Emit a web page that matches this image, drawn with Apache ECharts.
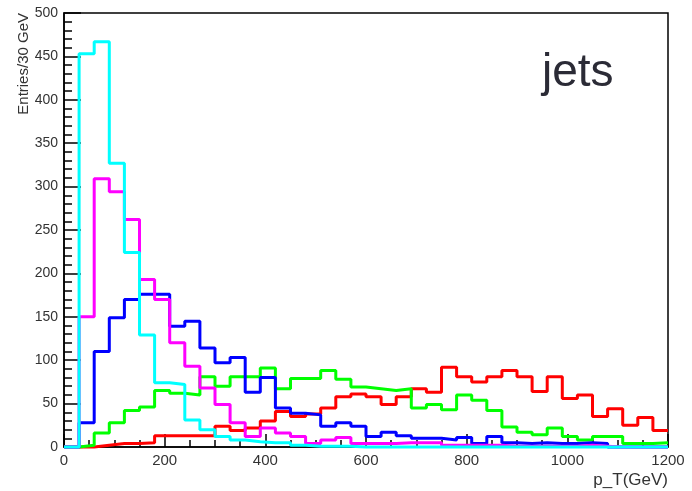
<!DOCTYPE html>
<html>
<head>
<meta charset="utf-8">
<script src="https://cdn.jsdelivr.net/npm/echarts@6/dist/echarts.min.js"></script>
<style>
html,body{margin:0;padding:0;background:#fff;}
#chart{width:692px;height:491px;}
</style>
</head>
<body>
<div id="chart"></div>
<script>
// Histogram binning (30 GeV bins from 0 to 1200)
const binWidth = 30;
const xMin = 0;
const xMax = 1200;
const yMin = 0;
const yMax = 500;
const xTickStep = 200;
const yTickStep = 50;

// Bin contents, one value per 30 GeV bin (40 bins)
const cyanValues = [0, 453, 467, 327, 224, 129, 74, 72, 31, 20, 12, 8, 6, 5, 5, 2, 1, 1, 1, 0,
                    0, 0, 0, 0, 0, 0, 0, 0, 0, 0, 0, 0, 0, 0, 0, 0, 0, 0, 0, 0];
const magentaValues = [0, 150, 309, 294, 262, 193, 170, 120, 93, 68, 49, 28, 12, 22, 16, 12, 4, 8, 11, 4,
                       4, 4, 5, 5, 5, 2, 2, 2, 2, 1, 1, 1, 1, 1, 2, 1, 0, 0, 0, 0];
const blueValues = [0, 28, 110, 149, 170, 176, 176, 139, 145, 114, 97, 103, 63, 80, 45, 39, 37, 24, 28, 24,
                    12, 17, 13, 10, 10, 8, 11, 4, 12, 5, 4, 5, 4, 4, 5, 4, 0, 0, 0, 0];
const greenValues = [0, 2, 16, 28, 42, 46, 65, 62, 60, 81, 70, 81, 81, 91, 67, 79, 79, 88, 78, 69,
                     67, 65, 67, 45, 49, 43, 60, 54, 42, 23, 17, 14, 22, 12, 8, 12, 12, 4, 4, 5];
const redValues = [0, 0, 2, 4, 4, 5, 13, 13, 13, 13, 24, 19, 22, 30, 41, 35, 38, 45, 58, 61,
                   58, 49, 58, 67, 63, 92, 81, 75, 81, 88, 81, 64, 81, 56, 60, 35, 44, 25, 34, 19];

const xAxisTitle = 'p_T(GeV)';
const yAxisTitle = 'Entries/30 GeV';
const annotation = 'jets';

// build step-line points: [bin low edge, value], plus closing point at xMax
function histPoints(values) {
  const pts = values.map((v, i) => [xMin + i * binWidth, v]);
  pts.push([xMin + values.length * binWidth, values[values.length - 1]]);
  return pts;
}

const seriesDefs = [
  {name: 'red', color: '#ff0000', values: redValues},
  {name: 'green', color: '#00ff00', values: greenValues},
  {name: 'blue', color: '#0000ff', values: blueValues},
  {name: 'magenta', color: '#ff00ff', values: magentaValues},
  {name: 'cyan', color: '#00ffff', values: cyanValues}
];

const FONT = 'Liberation Sans, Arial, Helvetica, sans-serif';
const chart = echarts.init(document.getElementById('chart'), null, {renderer: 'canvas'});

const option = {
  animation: false,
  backgroundColor: '#ffffff',
  title: {
    text: annotation,
    left: 542,
    top: 50,
    padding: 0,
    textStyle: {fontSize: 46, fontWeight: 'normal', color: '#2b2b36', fontFamily: FONT}
  },
  grid: {
    left: 64, right: 24, top: 13, bottom: 44,
    show: true, borderColor: '#000', borderWidth: 1.5,
    containLabel: false, outerBoundsMode: 'none'
  },
  xAxis: {
    type: 'value',
    min: xMin, max: xMax, interval: xTickStep,
    axisLine: {show: true, onZero: false, lineStyle: {color: '#000', width: 1.5}},
    axisTick: {show: true, inside: true, length: 13, lineStyle: {color: '#000', width: 1.5}},
    minorTick: {show: true, splitNumber: 4, length: 7, lineStyle: {color: '#000', width: 1.5}},
    splitLine: {show: false},
    axisLabel: {fontSize: 15, color: '#333', margin: 6, fontFamily: FONT, formatter: v => String(v)},
    name: xAxisTitle,
    nameLocation: 'end',
    nameGap: 0,
    nameMoveOverlap: false,
    nameTextStyle: {fontSize: 17, color: '#333', fontFamily: FONT, align: 'right', verticalAlign: 'top', padding: [25, 0, 0, 0]}
  },
  yAxis: {
    type: 'value',
    min: yMin, max: yMax, interval: yTickStep,
    axisLine: {show: true, onZero: false, lineStyle: {color: '#000', width: 1.5}},
    axisTick: {show: true, inside: true, length: 17, lineStyle: {color: '#000', width: 1.5}},
    minorTick: {show: true, splitNumber: 5, length: 8, lineStyle: {color: '#000', width: 1.5}},
    splitLine: {show: false},
    axisLabel: {fontSize: 14, color: '#333', margin: 6, fontFamily: FONT, formatter: v => String(v)},
    name: yAxisTitle,
    nameLocation: 'end',
    nameGap: 0,
    nameRotate: 90,
    nameMoveOverlap: false,
    nameTextStyle: {fontSize: 15, color: '#333', fontFamily: FONT, align: 'right', verticalAlign: 'bottom', padding: [0, 0, 33, 0]}
  },
  series: seriesDefs.map(s => ({
    name: s.name,
    type: 'line',
    step: 'end',
    symbol: 'none',
    data: histPoints(s.values),
    lineStyle: {color: s.color, width: 3},
    itemStyle: {color: s.color},
    clip: false
  }))
};

chart.setOption(option);
</script>
</body>
</html>
